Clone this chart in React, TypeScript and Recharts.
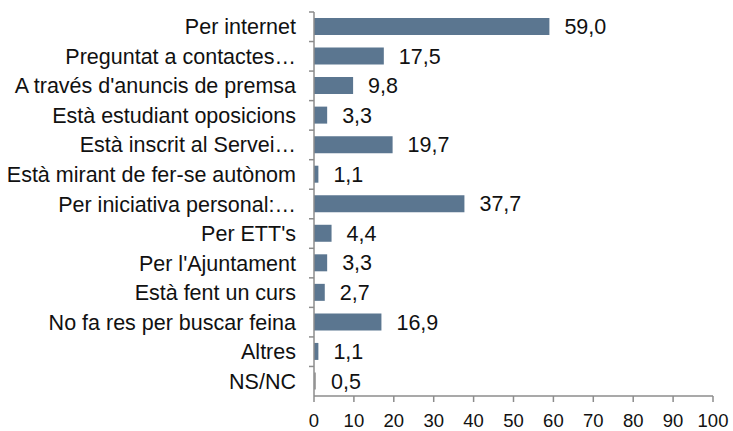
import { BarChart, Bar, XAxis, YAxis, LabelList, Cell } from "recharts";

const categories = [
  "Per internet",
  "Preguntat a contactes…",
  "A través d'anuncis de premsa",
  "Està estudiant oposicions",
  "Està inscrit al Servei…",
  "Està mirant de fer-se autònom",
  "Per iniciativa personal:…",
  "Per ETT's",
  "Per l'Ajuntament",
  "Està fent un curs",
  "No fa res per buscar feina",
  "Altres",
  "NS/NC",
];

const values = [59.0, 17.5, 9.8, 3.3, 19.7, 1.1, 37.7, 4.4, 3.3, 2.7, 16.9, 1.1, 0.5];

const xTicks = [0, 10, 20, 30, 40, 50, 60, 70, 80, 90, 100];

const data = categories.map((name, i) => ({ name, value: values[i] }));

const BAR_COLOR = "#5b7690";
const NA_COLOR = "#a8a8a8";
const AXIS_COLOR = "#8c8c8c";
const FONT = "'Liberation Sans', Arial, sans-serif";

const WIDTH = 733;
const HEIGHT = 431;
const TOP = 12;
const PLOT_BOTTOM = 396;
const HALF_BAND = (PLOT_BOTTOM - TOP) / categories.length / 2;

// label at the band centre, tick mark at the band's top edge (Excel style)
function CategoryTick(props: any) {
  const { x, y, payload } = props;
  return (
    <g>
      <line x1={x + 13} x2={x + 18} y1={y - HALF_BAND} y2={y - HALF_BAND} stroke={AXIS_COLOR} strokeWidth={1.5} />
      <text x={x} y={y} dy="0.35em" textAnchor="end" fill="#111" fontSize={21.5} fontFamily={FONT}>
        {payload.value}
      </text>
    </g>
  );
}

const fmt = (v: any) => Number(v).toFixed(1).replace(".", ",");

export default function App() {
  return (
    <div style={{ position: "absolute", left: 0, top: 0 }}>
      <BarChart
        width={WIDTH}
        height={HEIGHT}
        data={data}
        layout="vertical"
        margin={{ top: TOP, right: 20, bottom: 0, left: 0 }}
      >
        <XAxis
          type="number"
          domain={[0, 100]}
          ticks={xTicks}
          interval={0}
          height={HEIGHT - PLOT_BOTTOM}
          stroke={AXIS_COLOR}
          strokeWidth={1.5}
          tickSize={6}
          tickMargin={12}
          tick={{ fill: "#111", fontSize: 18.5, fontFamily: FONT }}
        />
        <YAxis
          type="category"
          dataKey="name"
          width={314}
          stroke={AXIS_COLOR}
          strokeWidth={1.5}
          tickLine={false}
          tickSize={5}
          tickMargin={13}
          interval={0}
          tick={<CategoryTick />}
        />
        <Bar dataKey="value" barSize={17} isAnimationActive={false}>
          {data.map((d, i) => (
            <Cell key={i} fill={d.name === "NS/NC" ? NA_COLOR : BAR_COLOR} />
          ))}
          <LabelList
            dataKey="value"
            position="right"
            offset={15}
            formatter={fmt}
            fill="#111"
            fontSize={21.5}
            fontFamily={FONT}
          />
        </Bar>
      </BarChart>
    </div>
  );
}
